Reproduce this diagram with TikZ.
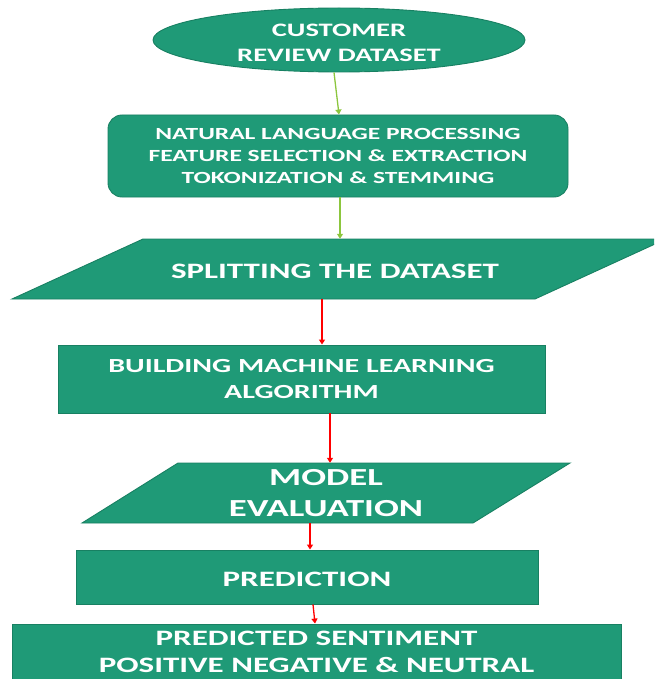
\documentclass[tikz,border=0pt]{standalone}
\usepackage{fontspec}
\setmainfont{Carlito}[FakeStretch=1.5]
\usetikzlibrary{shapes.geometric,arrows.meta}

\definecolor{boxfill}{RGB}{31,154,119}
\definecolor{boxline}{RGB}{24,128,98}
\definecolor{flowgreen}{RGB}{140,198,62}
\definecolor{flowred}{RGB}{255,0,0}

\tikzset{
  stepbox/.style={draw=boxline, fill=boxfill, line width=0.9pt, inner sep=0pt,
    text=white, align=center, font=\bfseries},
  bare/.style={inner sep=0pt, text=white, align=center, font=\bfseries},
  greenflow/.style={draw=flowgreen, line width=1.3pt,
    -{Triangle[length=5pt,width=6pt]}},
  redflow/.style={draw=flowred, line width=1.3pt,
    -{Triangle[length=5pt,width=6pt]}},
}

\begin{document}
\begin{tikzpicture}[x=1pt,y=-1pt]
\useasboundingbox (0,0) rectangle (654,679);
\clip (0,0) rectangle (654,679);

% source data
\node[stepbox, ellipse, minimum width=372pt, minimum height=64pt] (ell) at (339,40) {};
\node[bare, font=\bfseries\fontsize{19}{25}\selectfont] (elltext) at (339,43)
  {CUSTOMER\\REVIEW DATASET};

% preprocessing
\node[stepbox, rounded corners=14pt, minimum width=460pt, minimum height=82pt,
      font=\bfseries\fontsize{17}{22}\selectfont] (nlp) at (338,156)
  {NATURAL LANGUAGE PROCESSING\\FEATURE SELECTION \& EXTRACTION\\TOKONIZATION \& STEMMING};

% train/test split (parallelogram)
\draw[draw=boxline, fill=boxfill, line width=0.9pt]
  (143,239) -- (666,239) -- (535,299) -- (12,299) -- cycle;
\node[bare, minimum width=380pt, minimum height=60pt] (split) at (339,269) {};
\node[bare, font=\bfseries\fontsize{22}{26}\selectfont] (splittext) at (335,271)
  {SPLITTING THE DATASET};

% model building
\node[stepbox, minimum width=487pt, minimum height=68pt,
      font=\bfseries\fontsize{20}{26}\selectfont] (build) at (301.5,379)
  {BUILDING MACHINE LEARNING\\ALGORITHM};

% evaluation (parallelogram)
\draw[draw=boxline, fill=boxfill, line width=0.9pt]
  (178,463) -- (570,463) -- (473,523) -- (82,523) -- cycle;
\node[bare, minimum width=290pt, minimum height=60pt,
      font=\bfseries\fontsize{24.5}{31}\selectfont] (eval) at (326,493)
  {MODEL\\EVALUATION};

% prediction
\node[stepbox, minimum width=462pt, minimum height=54pt] (pred) at (307,577) {};
\node[bare, font=\bfseries\fontsize{22}{27}\selectfont] (predtext) at (307,579) {PREDICTION};

% result
\node[stepbox, minimum width=609pt, minimum height=56pt,
      font=\bfseries\fontsize{22}{27}\selectfont] (sent) at (316.5,652)
  {PREDICTED SENTIMENT\\POSITIVE NEGATIVE \& NEUTRAL};

% connectors
\draw[greenflow] ([xshift=-5pt]ell.south) -- ([xshift=1pt]nlp.north);
\draw[greenflow] ([xshift=2pt]nlp.south) -- ([xshift=2pt]nlp.south |- split.north);
\draw[redflow] ([xshift=-17pt]split.south) -- ([xshift=-17pt]split.south |- build.north);
\draw[redflow] ([xshift=28.5pt]build.south) -- ([xshift=28.5pt]build.south |- eval.north);
\draw[redflow] ([xshift=-16pt]eval.south) -- ([xshift=-16pt]eval.south |- pred.north);
\draw[redflow] ([xshift=6pt]pred.south) -- ([xshift=-1.5pt]sent.north);
\end{tikzpicture}
\end{document}
